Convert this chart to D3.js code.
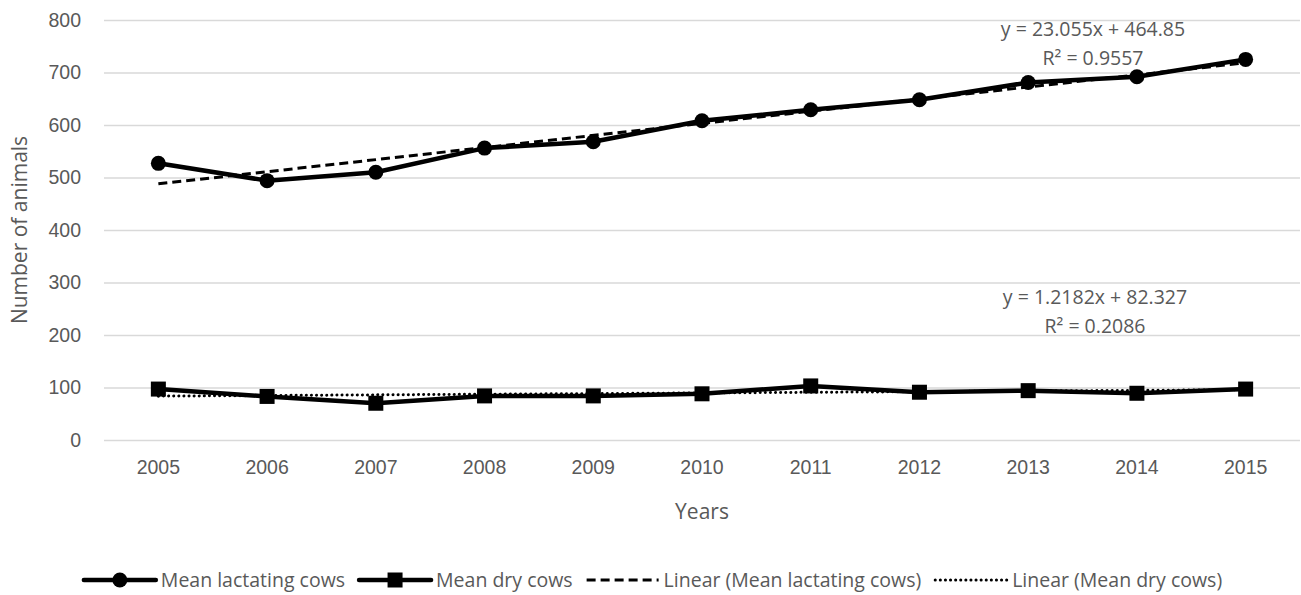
<!DOCTYPE html>
<html>
<head>
<meta charset="utf-8">
<script src="https://cdn.jsdelivr.net/npm/d3@7"></script>
<style>
  html, body { margin: 0; padding: 0; background: #fff; }
  svg { display: block; font-family: "Open Sans", "Liberation Sans", sans-serif; }
</style>
</head>
<body>
<svg id="chart" width="1301" height="595"></svg>
<script>
// Herd size by year
const years = ["2005", "2006", "2007", "2008", "2009", "2010", "2011", "2012", "2013", "2014", "2015"];
const lactating = [527, 494, 510, 556, 568, 608, 629, 648, 681, 692, 725];
const dry = [97, 83, 70, 84, 84, 88, 103, 91, 94, 89, 97];

// Linear trend coefficients (x = 1..11)
const trendLactating = { slope: 23.055, intercept: 464.85, r2: "0.9557" };
const trendDry = { slope: 1.2182, intercept: 82.327, r2: "0.2086" };

const yTicks = [0, 100, 200, 300, 400, 500, 600, 700, 800];
const legendLabels = ["Mean lactating cows", "Mean dry cows", "Linear (Mean lactating cows)", "Linear (Mean dry cows)"];

const svg = d3.select("#chart");
const textColor = "#595959";
const fontSize = 19.5;
const titleSize = 21;

const plot = { left: 104, right: 1300, top: 20, bottom: 440 };

const x = d3.scaleBand().domain(years).range([plot.left, plot.right]);
const xc = d => x(d) + x.bandwidth() / 2;
const y = d3.scaleLinear().domain([0, 800]).range([plot.bottom, plot.top]);

// Gridlines + y labels
const yAxis = d3.axisLeft(y).tickValues(yTicks).tickSize(-(plot.right - plot.left)).tickPadding(23);
const gy = svg.append("g").attr("transform", `translate(${plot.left},0)`).call(yAxis);
gy.select(".domain").remove();
gy.selectAll(".tick line").attr("stroke", "#d9d9d9").attr("stroke-width", 1.3);
gy.selectAll(".tick text").attr("fill", textColor).style("font-size", fontSize + "px").style("font-family", "inherit");

// x labels
const xAxis = d3.axisBottom(x).tickSize(0).tickPadding(20);
const gx = svg.append("g").attr("transform", `translate(0,${plot.bottom})`).call(xAxis);
gx.select(".domain").remove();
gx.selectAll(".tick text").attr("fill", textColor).style("font-size", fontSize + "px").style("font-family", "inherit");

// Axis titles
svg.append("text")
  .attr("x", (plot.left + plot.right) / 2).attr("y", 519)
  .attr("text-anchor", "middle").attr("fill", textColor)
  .style("font-size", titleSize + "px").text("Years");
svg.append("text")
  .attr("transform", `translate(27,${(plot.top + plot.bottom) / 2}) rotate(-90)`)
  .attr("text-anchor", "middle").attr("fill", textColor)
  .style("font-size", titleSize + "px").text("Number of animals");

// Series lines
const line = d3.line().x((d, i) => xc(years[i])).y(d => y(d));
function series(values, markerType) {
  svg.append("path").datum(values).attr("d", line)
    .attr("fill", "none").attr("stroke", "#000").attr("stroke-width", 4.5)
    .attr("stroke-linejoin", "round");
  const g = svg.append("g");
  if (markerType === "circle") {
    g.selectAll("circle").data(values).join("circle")
      .attr("cx", (d, i) => xc(years[i])).attr("cy", d => y(d)).attr("r", 7.5).attr("fill", "#000");
  } else {
    g.selectAll("rect").data(values).join("rect")
      .attr("x", (d, i) => xc(years[i]) - 7.5).attr("y", d => y(d) - 7.5)
      .attr("width", 15).attr("height", 15).attr("fill", "#000");
  }
}
series(lactating, "circle");
series(dry, "square");

// Trend lines
function trend(t, dash, width, cap) {
  const x0 = 1, x1 = years.length;
  svg.append("line")
    .attr("x1", xc(years[0])).attr("y1", y(t.intercept + t.slope * x0))
    .attr("x2", xc(years[years.length - 1])).attr("y2", y(t.intercept + t.slope * x1))
    .attr("stroke", "#000").attr("stroke-width", width)
    .attr("stroke-dasharray", dash).attr("stroke-linecap", cap);
}
trend(trendLactating, "9,5", 3, "butt");
trend(trendDry, "0.1,5", 3, "round");

// Trend equations
function equation(t, cx, cy) {
  const g = svg.append("g").attr("fill", textColor).style("font-size", fontSize + "px").attr("text-anchor", "middle");
  g.append("text").attr("x", cx).attr("y", cy).text(`y = ${t.slope}x + ${t.intercept}`);
  g.append("text").attr("x", cx).attr("y", cy + 29).text(`R² = ${t.r2}`);
}
equation(trendLactating, 1093, 36);
equation(trendDry, 1095, 304);

// Legend
const legendY = 580;
const symW = 72, gapText = 5, gapItem = 14;
const lg = svg.append("g");
const items = legendLabels.map((label, i) => {
  const g = lg.append("g");
  const t = g.append("text").attr("x", symW + gapText).attr("y", legendY + 7)
    .attr("fill", textColor).style("font-size", fontSize + "px").text(label);
  return { g, i, w: symW + gapText + t.node().getComputedTextLength() };
});
const total = d3.sum(items, d => d.w) + gapItem * (items.length - 1);
let cursor = 653 - total / 2;
items.forEach(({ g, i, w }) => {
  g.attr("transform", `translate(${cursor},0)`);
  const ln = g.append("line").attr("x1", 0).attr("x2", symW).attr("y1", legendY).attr("y2", legendY).attr("stroke", "#000");
  if (i < 2) {
    ln.attr("stroke-width", 4.5).attr("stroke-linecap", "round");
    if (i === 0) g.append("circle").attr("cx", symW / 2).attr("cy", legendY).attr("r", 7.5).attr("fill", "#000");
    else g.append("rect").attr("x", symW / 2 - 7.5).attr("y", legendY - 7.5).attr("width", 15).attr("height", 15).attr("fill", "#000");
  } else if (i === 2) {
    ln.attr("stroke-width", 3).attr("stroke-dasharray", "9,5");
  } else {
    ln.attr("stroke-width", 3).attr("stroke-dasharray", "0.1,5").attr("stroke-linecap", "round");
  }
  cursor += w + gapItem;
});
</script>
</body>
</html>
